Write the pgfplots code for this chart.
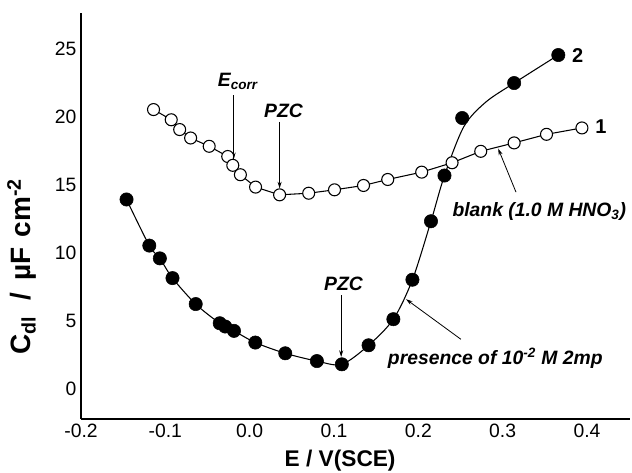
\documentclass[border=0pt]{standalone}
\usepackage{fontspec}
\setmainfont{Liberation Sans}
\usepackage{pgfplots}
\pgfplotsset{compat=1.18}
\usetikzlibrary{arrows.meta}

\pgfplotstableread{
x y
-0.114 20.55
-0.093 19.80
-0.083 19.08
-0.070 18.46
-0.048 17.85
-0.026 17.10
-0.020 16.45
-0.011 15.76
0.007 14.85
0.0355 14.28
0.070 14.40
0.1006 14.65
0.135 14.97
0.1637 15.41
0.204 15.95
0.240 16.64
0.274 17.48
0.3136 18.10
0.352 18.73
0.394 19.20
}\blank

\pgfplotstableread{
x y
-0.146 13.94
-0.119 10.55
-0.1065 9.61
-0.0915 8.16
-0.064 6.25
-0.0355 4.84
-0.029 4.60
-0.0186 4.28
0.0067 3.42
0.0422 2.63
0.0797 2.06
0.1093 1.82
0.141 3.22
0.1704 5.14
0.193 8.04
0.215 12.34
0.231 15.70
0.252 19.93
0.3136 22.50
0.366 24.56
}\inhib

\pgfplotstableread{
x y
-0.146 13.94
-0.119 10.55
-0.1065 9.61
-0.0915 8.16
-0.064 6.25
-0.0355 4.84
-0.0186 4.28
0.0067 3.42
0.0422 2.63
0.0797 2.06
0.1093 1.82
0.141 3.22
0.1704 5.14
0.193 8.04
0.215 12.34
0.231 15.70
0.254 19.30
0.280 21.10
0.3136 22.50
0.366 24.56
}\inhibfit

\begin{document}
\begin{tikzpicture}[x=1pt,y=1pt]
\useasboundingbox (0,0) rectangle (474,354);
\begin{axis}[
  at={(60.75pt,39.75pt)}, anchor=south west,
  scale only axis, width=411.75pt, height=304.5pt,
  xmin=-0.2, xmax=0.451, ymin=-2.2, ymax=27.65,
  axis x line*=bottom, axis y line*=left,
  axis line style={line width=1pt},
  major tick length=0pt,
  xtick={-0.2,-0.1,0,0.1,0.2,0.3,0.4},
  ytick={0,5,10,15,20,25},
  xticklabel style={/pgf/number format/.cd, fixed, fixed zerofill, precision=1},
  /pgf/number format/assume math mode=true,
  tick label style={font=\fontsize{14.5}{16}\selectfont},
  xlabel={E / V(SCE)},
  ylabel={C\textsubscript{dl}\hspace{0.55em}/\hspace{0.45em}µF\hspace{0.35em}cm\textsuperscript{-2}},
  xlabel style={font=\bfseries\fontsize{17}{19}\selectfont, at={(rel axis cs:0.472,-0.1182)}, anchor=base},
  ylabel style={font=\bfseries\fontsize{21}{23}\selectfont, at={(rel axis cs:-0.0911,0.3756)}, anchor=base},
  clip=false,
]
\addplot[black, line width=0.8pt, smooth, tension=0.5] table {\inhibfit};
\addplot[only marks, mark=*, mark size=5pt, mark options={fill=black, draw=black}] table {\inhib};
\addplot[black, line width=0.8pt, mark=*, mark size=4.5pt, mark options={fill=white, draw=black, line width=0.8pt}] table {\blank};

\tikzset{ann/.style={font=\bfseries\itshape\fontsize{14.5}{16}\selectfont, inner sep=0pt},
         arr/.style={line width=0.6pt, -{Stealth[length=5pt,width=3pt]}}}
\node[ann, anchor=base west] at (axis cs:-0.038,22.27) {E\textsubscript{corr}};
\draw[arr] (axis cs:-0.019,21.6) -- (axis cs:-0.019,16.9);
\node[ann, anchor=base] at (axis cs:0.0402,19.99) {PZC};
\draw[arr] (axis cs:0.0355,19.64) -- (axis cs:0.0355,14.75);
\node[ann, anchor=base] at (axis cs:0.1112,7.23) {PZC};
\draw[arr] (axis cs:0.1085,6.91) -- (axis cs:0.1085,2.36);
\node[font=\bfseries\fontsize{15}{16}\selectfont, inner sep=0pt, anchor=base] at (axis cs:0.4166,18.8) {1};
\node[font=\bfseries\fontsize{15}{16}\selectfont, inner sep=0pt, anchor=base] at (axis cs:0.389,24.04) {2};
\node[ann, anchor=base west] at (axis cs:0.2402,12.68) {blank (1.0 M HNO\textsubscript{3})};
\draw[arr] (axis cs:0.3158,14.48) -- (axis cs:0.2947,17.68);
\node[ann, anchor=base west] at (axis cs:0.1637,1.84) {presence of 10\textsuperscript{-2} M 2mp};
\draw[arr] (axis cs:0.2505,3.66) -- (axis cs:0.1854,6.61);
\end{axis}
\end{tikzpicture}
\end{document}
